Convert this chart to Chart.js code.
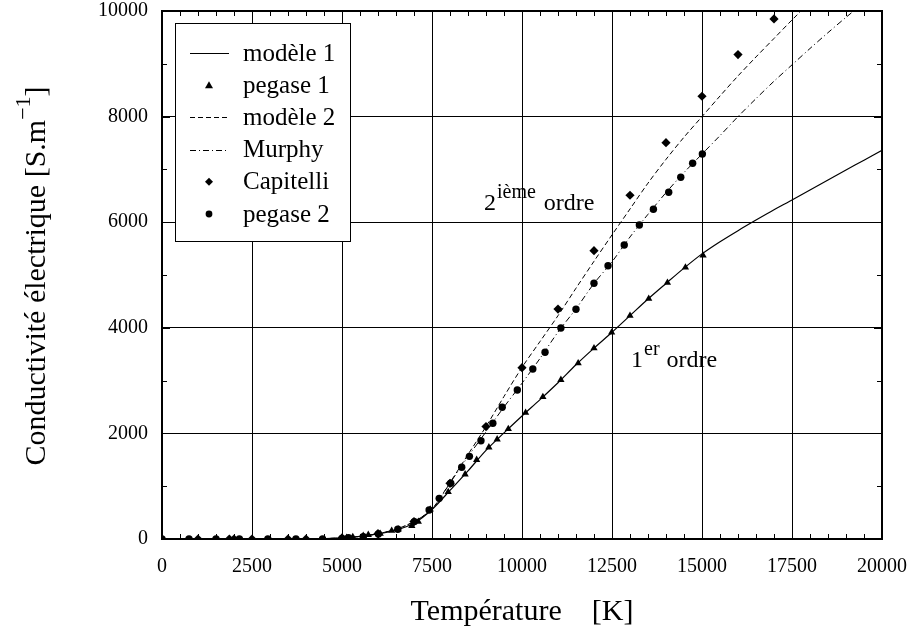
<!DOCTYPE html>
<html>
<head>
<meta charset="utf-8">
<script src="https://cdn.jsdelivr.net/npm/chart.js@4"></script>
<style>
  html, body { margin: 0; padding: 0; background: #fff; }
  #wrap { width: 919px; height: 634px; }
</style>
</head>
<body>
<div id="wrap"><canvas id="chart" width="919" height="634"></canvas></div>
<script>
// Axis ticks
const xTicks = [0, 2500, 5000, 7500, 10000, 12500, 15000, 17500, 20000];
const yTicks = [0, 2000, 4000, 6000, 8000, 10000];

// modèle 1 (solid line)
const model1T = [0, 1000, 2000, 3000, 4000, 4500, 5000, 5500, 6000, 6500, 7000, 7500, 8000, 8500, 9000, 9500, 10000, 10500, 11000, 11500, 12000, 12500, 13000, 13500, 14000, 14500, 15000, 15500, 16000, 16500, 17000, 17500, 18000, 18500, 19000, 19500, 20000];
const model1 = [0, 0, 0, 0, 2, 8, 20, 50, 95, 170, 300, 560, 920, 1290, 1680, 2010, 2330, 2640, 2960, 3300, 3615, 3915, 4230, 4545, 4840, 5130, 5400, 5630, 5840, 6040, 6235, 6420, 6610, 6800, 6990, 7175, 7360];

// pegase 1 (triangles)
const pegase1T = [0, 5000, 5130, 5300, 5590, 5730, 6060, 6380, 6560, 6940, 7120, 7450, 7950, 8420, 8740, 9080, 9310, 9620, 10100, 10580, 11080, 11560, 12000, 12490, 13000, 13520, 14040, 14540, 15030];
const pegase1 = [0, 15, 25, 40, 63, 80, 100, 157, 184, 250, 328, 560, 890, 1225, 1500, 1737, 1888, 2083, 2392, 2690, 3015, 3330, 3615, 3912, 4230, 4550, 4855, 5145, 5370];

// modèle 2 (dashed line)
const model2T = [0, 4000, 4500, 5000, 5500, 6000, 6500, 7000, 7500, 8000, 8500, 9000, 9500, 10000, 10500, 11000, 11500, 12000, 12500, 13000, 13500, 14000, 14500, 15000, 15500, 16000, 16500, 17000, 17500, 18000];
const model2 = [0, 2, 8, 20, 50, 100, 185, 330, 570, 1070, 1600, 2130, 2700, 3250, 3740, 4230, 4750, 5260, 5760, 6250, 6740, 7190, 7610, 8000, 8390, 8770, 9130, 9480, 9830, 10170];

// Murphy (dash-dot line)
const murphyT = [0, 4000, 4500, 5000, 5500, 6000, 6500, 7000, 7500, 8000, 8500, 9000, 9500, 10000, 10500, 11000, 11500, 12000, 12500, 13000, 13500, 14000, 14500, 15000, 15500, 16000, 16500, 17000, 17500, 18000, 18500, 19000, 19500];
const murphy = [0, 2, 8, 20, 50, 100, 185, 330, 560, 1060, 1560, 2030, 2500, 2950, 3420, 3920, 4360, 4840, 5250, 5720, 6150, 6560, 6940, 7290, 7640, 8000, 8340, 8670, 8980, 9290, 9590, 9880, 10160];

// Capitelli (diamonds)
const capitelliT = [1000, 1870, 2000, 2500, 3500, 4000, 5000, 6000, 7000, 8000, 9000, 10000, 11000, 12000, 13000, 14000, 15000, 16000, 17000];
const capitelli = [0, 0, 0, 0, 0, 0, 20, 100, 330, 1055, 2130, 3245, 4355, 5460, 6510, 7506, 8385, 9175, 9850];

// pegase 2 (circles)
const pegase2T = [0, 750, 1500, 2150, 2940, 3720, 4460, 5000, 5180, 5590, 6010, 6550, 7010, 7420, 7700, 8020, 8325, 8540, 8860, 9190, 9450, 9870, 10300, 10640, 11080, 11500, 12000, 12390, 12840, 13260, 13650, 14075, 14410, 14740, 15010];
const pegase2 = [0, 0, 0, 0, 0, 0, 0, 10, 25, 44, 95, 184, 330, 549, 770, 1055, 1358, 1565, 1862, 2191, 2494, 2822, 3220, 3536, 3995, 4350, 4843, 5176, 5568, 5947, 6244, 6566, 6850, 7116, 7292];

const SERIF = "'Liberation Serif', 'DejaVu Serif', serif";

function pts(xs, ys) {
    return xs.map((x, i) => ({ x: x, y: ys[i] }));
}

function drawDiamond(ctx, x, y, r) {
    ctx.beginPath();
    ctx.moveTo(x, y - r);
    ctx.lineTo(x + r, y);
    ctx.lineTo(x, y + r);
    ctx.lineTo(x - r, y);
    ctx.closePath();
    ctx.fill();
}

// text with a raised part, e.g. 2^ième
function supText(ctx, base, sup, after, x, y, gap) {
    ctx.font = "24px " + SERIF;
    ctx.fillText(base, x, y);
    let cx = x + ctx.measureText(base).width + 1;
    ctx.font = "20px " + SERIF;
    ctx.fillText(sup, cx, y - 12);
    cx += ctx.measureText(sup).width + gap;
    ctx.font = "24px " + SERIF;
    ctx.fillText(after, cx, y);
}

// Inner ticks, legend box, annotations and y title
const decorPlugin = {
    id: "decor",
    afterDraw(chart) {
        const ctx = chart.ctx;
        const area = chart.chartArea;
        const xs = chart.scales.x;
        const ys = chart.scales.y;
        ctx.save();
        ctx.strokeStyle = "#000";
        ctx.lineWidth = 1;

        // minor / major ticks, pointing inward on all four sides
        ctx.beginPath();
        for (let v = 0; v <= 20000; v += 500) {
            const px = Math.round(xs.getPixelForValue(v)) + 0.5;
            const len = v % 2500 === 0 ? 8 : 5;
            ctx.moveTo(px, area.bottom);
            ctx.lineTo(px, area.bottom - len);
            ctx.moveTo(px, area.top);
            ctx.lineTo(px, area.top + len);
        }
        for (let v = 0; v <= 10000; v += 1000) {
            const py = Math.round(ys.getPixelForValue(v)) + 0.5;
            const len = v % 2000 === 0 ? 8 : 5;
            ctx.moveTo(area.left, py);
            ctx.lineTo(area.left + len, py);
            ctx.moveTo(area.right, py);
            ctx.lineTo(area.right - len, py);
        }
        ctx.stroke();

        // frame
        ctx.lineWidth = 2;
        ctx.strokeRect(area.left, area.top, area.right - area.left, area.bottom - area.top);

        // legend
        const lx = 175, ly = 23, lw = 175, lh = 218;
        ctx.fillStyle = "#fff";
        ctx.fillRect(lx, ly, lw, lh);
        ctx.lineWidth = 1;
        ctx.strokeRect(lx + 0.5, ly + 0.5, lw, lh);
        ctx.textBaseline = "middle";
        ctx.textAlign = "left";
        chart.data.datasets.forEach((ds, i) => {
            const cy = 53 + i * 32.2;
            ctx.fillStyle = "#000";
            ctx.strokeStyle = "#000";
            if (ds.showLine) {
                ctx.lineWidth = 1;
                ctx.setLineDash(ds.borderDash || []);
                ctx.beginPath();
                ctx.moveTo(190, Math.round(cy) + 0.5);
                ctx.lineTo(229, Math.round(cy) + 0.5);
                ctx.stroke();
                ctx.setLineDash([]);
            } else {
                const mx = 209;
                if (ds.pointStyle === "triangle") {
                    ctx.beginPath();
                    ctx.moveTo(mx, cy - 4);
                    ctx.lineTo(mx + 4, cy + 3);
                    ctx.lineTo(mx - 4, cy + 3);
                    ctx.closePath();
                    ctx.fill();
                } else if (ds.pointStyle === "rectRot") {
                    drawDiamond(ctx, mx, cy, 4);
                } else {
                    ctx.beginPath();
                    ctx.arc(mx, cy, 3.4, 0, Math.PI * 2);
                    ctx.fill();
                }
            }
            ctx.font = "25px " + SERIF;
            ctx.fillText(ds.label, 243, cy + 1);
        });

        // annotations with superscripts
        ctx.fillStyle = "#000";
        ctx.textBaseline = "alphabetic";
        supText(ctx, "2", "ième", "ordre", 484, 210, 8);
        supText(ctx, "1", "er", "ordre", 631, 367, 7);

        // y axis title, rotated
        ctx.translate(37, 276);
        ctx.rotate(-Math.PI / 2);
        const main = "Conductivité électrique [S.m";
        const sup = "\u22121";
        ctx.font = "30px " + SERIF;
        const w1 = ctx.measureText(main).width;
        ctx.font = "22px " + SERIF;
        const w2 = ctx.measureText(sup).width;
        ctx.font = "30px " + SERIF;
        const w3 = ctx.measureText("]").width;
        const sx = -(w1 + w2 + w3) / 2;
        ctx.textBaseline = "middle";
        ctx.fillText(main, sx, 0);
        ctx.font = "22px " + SERIF;
        ctx.fillText(sup, sx + w1, -13);
        ctx.font = "30px " + SERIF;
        ctx.fillText("]", sx + w1 + w2, 0);
        ctx.restore();
    },
};

const ctx = document.getElementById("chart").getContext("2d");
new Chart(ctx, {
    type: "scatter",
    data: {
        datasets: [
            {
                label: "modèle 1",
                data: pts(model1T, model1),
                showLine: true,
                borderColor: "#000",
                borderWidth: 1.2,
                pointRadius: 0,
                tension: 0.3,
            },
            {
                label: "pegase 1",
                data: pts(pegase1T, pegase1),
                showLine: false,
                pointStyle: "triangle",
                pointRadius: 4.2,
                backgroundColor: "#000",
                borderColor: "#000",
                borderWidth: 0,
            },
            {
                label: "modèle 2",
                data: pts(model2T, model2),
                showLine: true,
                borderColor: "#000",
                borderWidth: 1,
                borderDash: [5, 3],
                pointRadius: 0,
                tension: 0.3,
            },
            {
                label: "Murphy",
                data: pts(murphyT, murphy),
                showLine: true,
                borderColor: "#000",
                borderWidth: 1,
                borderDash: [6, 3, 1, 3],
                pointRadius: 0,
                tension: 0.3,
            },
            {
                label: "Capitelli",
                data: pts(capitelliT, capitelli),
                showLine: false,
                pointStyle: "rectRot",
                pointRadius: 4.6,
                backgroundColor: "#000",
                borderColor: "#000",
                borderWidth: 0,
            },
            {
                label: "pegase 2",
                data: pts(pegase2T, pegase2),
                showLine: false,
                pointStyle: "circle",
                pointRadius: 3.7,
                backgroundColor: "#000",
                borderColor: "#000",
                borderWidth: 0,
            },
        ],
    },
    options: {
        responsive: false,
        animation: false,
        layout: { padding: { top: 11, right: 37, left: 0, bottom: 0 } },
        plugins: {
            legend: { display: false },
            tooltip: { enabled: false },
        },
        scales: {
            x: {
                type: "linear",
                min: 0,
                max: 20000,
                afterFit: (s) => {
                    s.height = 95;
                    s.paddingLeft = 0;
                    s.paddingRight = 0;
                },
                afterBuildTicks: (s) => { s.ticks = xTicks.map((v) => ({ value: v })); },
                ticks: {
                    color: "#000",
                    padding: 16,
                    maxRotation: 0,
                    font: { family: SERIF, size: 20 },
                    callback: (v) => String(v),
                },
                grid: { color: "#000", lineWidth: 1, drawTicks: false },
                border: { display: false },
                title: {
                    display: true,
                    text: "Température    [K]",
                    color: "#000",
                    font: { family: SERIF, size: 30 },
                    padding: { top: 10 },
                },
            },
            y: {
                type: "linear",
                min: 0,
                max: 10000,
                afterFit: (s) => {
                    s.width = 162;
                    s.paddingTop = 0;
                    s.paddingBottom = 0;
                },
                afterBuildTicks: (s) => { s.ticks = yTicks.map((v) => ({ value: v })); },
                ticks: {
                    color: "#000",
                    padding: 14,
                    font: { family: SERIF, size: 20 },
                    callback: (v) => String(v),
                },
                grid: { color: "#000", lineWidth: 1, drawTicks: false },
                border: { display: false },
            },
        },
    },
    plugins: [decorPlugin],
});
</script>
</body>
</html>
